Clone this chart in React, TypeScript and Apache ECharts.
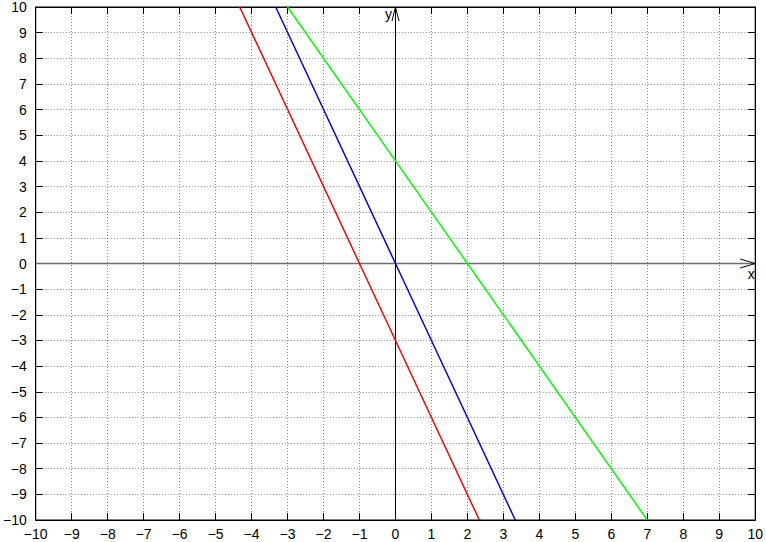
import React, { useEffect, useRef } from "react";
import * as echarts from "echarts";

const xTicks = [-10, -9, -8, -7, -6, -5, -4, -3, -2, -1, 0, 1, 2, 3, 4, 5, 6, 7, 8, 9, 10];
const redLine = [[-4.33, 10], [-1, 0], [0, -3], [2.33, -10]];
const blueLine = [[-3.33, 10], [0, 0], [3.33, -10]];
const greenLine = [[-3, 10], [0, 4], [2, 0], [7, -10]];
const axisLabels = ["x", "y"];

const fmt = (v: number) => String(v).replace("-", "\u2212");
const FONT = "Liberation Sans, Arial, sans-serif";

export default function App() {
  const ref = useRef<HTMLDivElement>(null);
  useEffect(() => {
    const chart = echarts.init(ref.current!, null, { renderer: "svg" });
    const axisCommon = {
      type: "value" as const,
      min: xTicks[0],
      max: xTicks[xTicks.length - 1],
      interval: 1,
    };
    const gridLine = { show: true, lineStyle: { color: "#8a8a8a", type: [1, 2], width: 1 } };
    chart.setOption({
      animation: false,
      backgroundColor: "#fff",
      grid: { left: 35, right: 9, top: 6, bottom: 22, show: true, borderColor: "#000", borderWidth: 1, backgroundColor: "transparent" },
      xAxis: [
        {
          ...axisCommon,
          position: "bottom",
          axisLine: { show: true, onZero: false, lineStyle: { color: "#000" } },
          axisTick: { show: true, inside: true, length: 7, lineStyle: { color: "#000" } },
          axisLabel: { formatter: fmt, color: "#000", fontSize: 14, fontFamily: FONT, margin: 7 },
          splitLine: gridLine,
        },
        {
          ...axisCommon,
          position: "top",
          axisLine: { show: true, onZero: false, lineStyle: { color: "#000" } },
          axisTick: { show: true, inside: true, length: 7, lineStyle: { color: "#000" } },
          axisLabel: { show: false },
          splitLine: { show: false },
        },
      ],
      yAxis: [
        {
          ...axisCommon,
          position: "left",
          axisLine: { show: true, onZero: false, lineStyle: { color: "#000" } },
          axisTick: { show: true, inside: true, length: 7, lineStyle: { color: "#000" } },
          axisLabel: { formatter: fmt, color: "#000", fontSize: 14, fontFamily: FONT, margin: 9 },
          splitLine: gridLine,
        },
        {
          ...axisCommon,
          position: "right",
          axisLine: { show: true, onZero: false, lineStyle: { color: "#000" } },
          axisTick: { show: true, inside: true, length: 7, lineStyle: { color: "#000" } },
          axisLabel: { show: false },
          splitLine: { show: false },
        },
      ],
      series: [
        {
          type: "custom",
          xAxisIndex: 0,
          yAxisIndex: 0,
          z: 1,
          silent: true,
          data: [[0, 0]],
          renderItem: (_p: any, api: any) => {
            const xa = api.coord([xTicks[0], 0]);
            const xb = api.coord([xTicks[xTicks.length - 1], 0]);
            const ya = api.coord([0, xTicks[0]]);
            const yb = api.coord([0, xTicks[xTicks.length - 1]]);
            return {
              type: "group",
              children: [
                { type: "line", shape: { x1: xa[0], y1: xa[1], x2: xb[0], y2: xb[1] }, style: { stroke: "#6e6e6e", lineWidth: 1.5 } },
                { type: "polyline", shape: { points: [[xb[0] - 15, xb[1] - 4.5], [xb[0], xb[1]], [xb[0] - 15, xb[1] + 4.5]] }, style: { stroke: "#000", fill: null, lineWidth: 1 } },
                { type: "line", shape: { x1: ya[0], y1: ya[1], x2: yb[0], y2: yb[1] }, style: { stroke: "#000", lineWidth: 1 } },
                { type: "polyline", shape: { points: [[yb[0] - 3.5, yb[1] + 14], [yb[0], yb[1]], [yb[0] + 3.5, yb[1] + 14]] }, style: { stroke: "#000", fill: null, lineWidth: 1 } },
                { type: "text", x: xb[0] - 4, y: xb[1] + 10, style: { text: axisLabels[0], fill: "#000", fontSize: 14, fontFamily: FONT, align: "center", verticalAlign: "middle" } },
                { type: "text", x: yb[0] - 7, y: yb[1] + 7, style: { text: axisLabels[1], fill: "#000", fontSize: 14, fontFamily: FONT, align: "center", verticalAlign: "middle" } },
              ],
            };
          },
        },
        { type: "line", z: 2, data: redLine, showSymbol: false, symbol: "none", lineStyle: { color: "#ff0000", width: 1.5 } },
        { type: "line", z: 2, data: blueLine, showSymbol: false, symbol: "none", lineStyle: { color: "#0000ff", width: 1.5 } },
        { type: "line", z: 2, data: greenLine, showSymbol: false, symbol: "none", lineStyle: { color: "#00ff00", width: 1.5 } },
      ],
    });
    return () => chart.dispose();
  }, []);
  return <div ref={ref} style={{ position: "absolute", left: 0, top: 0, width: 766, height: 542 }} />;
}
